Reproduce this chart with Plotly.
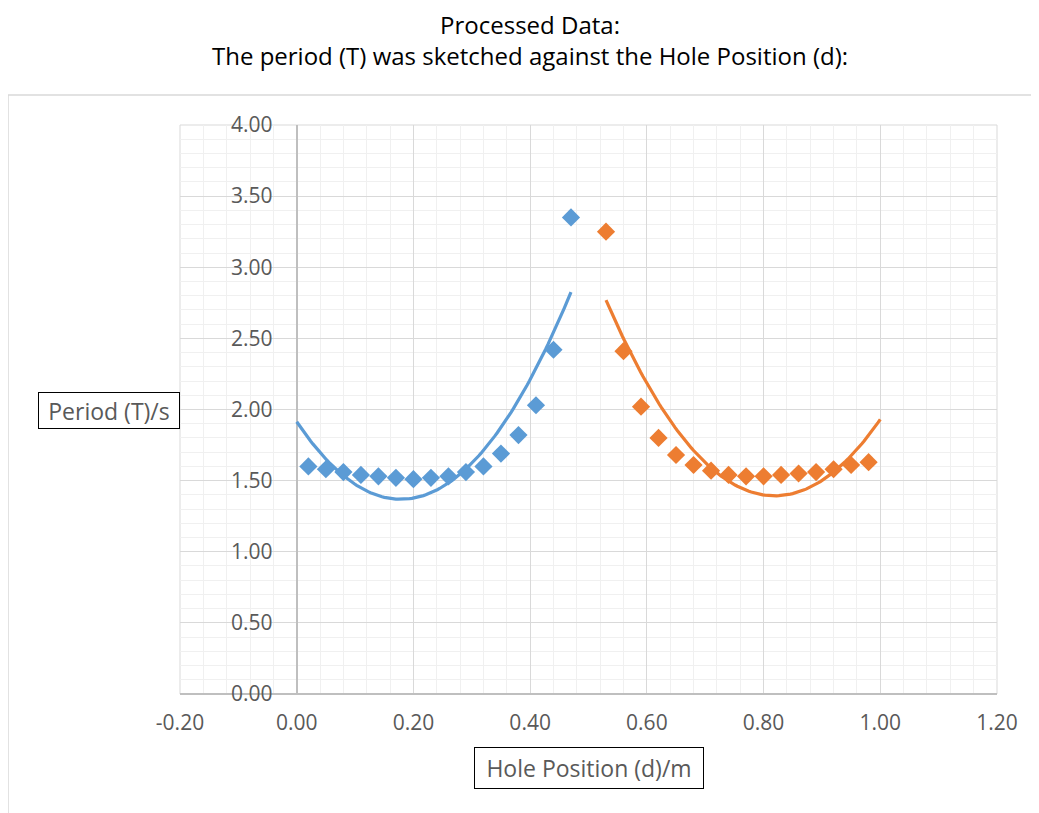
import numpy as np
import plotly.graph_objects as go

# ---- data ----
d_left = [0.02, 0.05, 0.08, 0.11, 0.14, 0.17, 0.20, 0.23, 0.26, 0.29, 0.32, 0.35, 0.38, 0.41, 0.44, 0.47]
T_left = [1.60, 1.58, 1.56, 1.54, 1.53, 1.52, 1.51, 1.52, 1.53, 1.56, 1.60, 1.69, 1.82, 2.03, 2.42, 3.35]
d_right = [0.53, 0.56, 0.59, 0.62, 0.65, 0.68, 0.71, 0.74, 0.77, 0.80, 0.83, 0.86, 0.89, 0.92, 0.95, 0.98]
T_right = [3.25, 2.41, 2.02, 1.80, 1.68, 1.61, 1.57, 1.54, 1.53, 1.53, 1.54, 1.55, 1.56, 1.58, 1.61, 1.63]

x_ticks = [-0.2, 0.0, 0.2, 0.4, 0.6, 0.8, 1.0, 1.2]
y_ticks = [0.0, 0.5, 1.0, 1.5, 2.0, 2.5, 3.0, 3.5, 4.0]

title_lines = ["Processed Data:", "The period (T) was sketched against the Hole Position (d):"]
x_title = "Hole Position (d)/m"
y_title = "Period (T)/s"

BLUE = "#5B9BD5"
ORANGE = "#ED7D31"

# polynomial (order 2) trendlines, extended 0.02 beyond the data like Excel's forecast
cl = np.polyfit(d_left, T_left, 2)
cr = np.polyfit(d_right, T_right, 2)
xl = np.linspace(min(d_left) - 0.02, max(d_left), 120)
xr = np.linspace(min(d_right), max(d_right) + 0.02, 120)

fig = go.Figure()
fig.add_trace(go.Scatter(x=xl, y=np.polyval(cl, xl), mode="lines",
                         line=dict(color=BLUE, width=3.2), showlegend=False, hoverinfo="skip"))
fig.add_trace(go.Scatter(x=xr, y=np.polyval(cr, xr), mode="lines",
                         line=dict(color=ORANGE, width=3.2), showlegend=False, hoverinfo="skip"))
fig.add_trace(go.Scatter(x=d_left, y=T_left, mode="markers",
                         marker=dict(symbol="diamond", size=14, color=BLUE), showlegend=False))
fig.add_trace(go.Scatter(x=d_right, y=T_right, mode="markers",
                         marker=dict(symbol="diamond", size=14, color=ORANGE), showlegend=False))

# page has an 8px body margin, so the figure is drawn 8px smaller and referenced from that offset
OFF = 8
W, H = 1039 - OFF, 813 - OFF
L, R, T, B = 180 - OFF, 997 - OFF, 125 - OFF, 694 - OFF
pw, ph = R - L, B - T

def px(x):
    return (x - OFF - L) / pw

def py(y):
    return (B - (y - OFF)) / ph

xmin, xmax = -0.2, 1.2
ypos = (0 - xmin) / (xmax - xmin)

fig.update_layout(
    width=W, height=H,
    margin=dict(l=L, r=W - R, t=T, b=H - B),
    paper_bgcolor="white", plot_bgcolor="white",
    font=dict(family="Open Sans", color="#595959"),
    xaxis=dict(range=[xmin, xmax], tickvals=x_ticks, ticktext=[f"{v:.2f}" for v in x_ticks],
               showgrid=True, gridcolor="#D9D9D9", gridwidth=1,
               minor=dict(dtick=0.04, showgrid=True, gridcolor="#F0F0F0", gridwidth=1),
               zeroline=True, zerolinecolor="#BFBFBF", zerolinewidth=1.5,
               showline=False, ticks="outside", ticklen=10, tickcolor="rgba(0,0,0,0)",
               tickfont=dict(size=21, color="#595959"), fixedrange=True),
    yaxis=dict(range=[0, 4], tickvals=y_ticks, ticktext=[f"{v:.2f}" for v in y_ticks],
               anchor="free", position=ypos,
               showgrid=True, gridcolor="#D9D9D9", gridwidth=1,
               minor=dict(dtick=0.1, showgrid=True, gridcolor="#F0F0F0", gridwidth=1),
               zeroline=True, zerolinecolor="#BFBFBF", zerolinewidth=1.5,
               showline=False, ticks="outside", ticklen=20, tickcolor="rgba(0,0,0,0)",
               tickfont=dict(size=21, color="#595959"), fixedrange=True),
    shapes=[
        dict(type="rect", xref="paper", yref="paper",
             x0=px(8), x1=px(1050), y0=py(830), y1=py(95),
             line=dict(color="#D9D9D9", width=1.5), layer="below"),
        dict(type="rect", xref="paper", yref="paper",
             x0=0, x1=1, y0=0, y1=1,
             line=dict(color="#D9D9D9", width=1), layer="below"),
    ],
    annotations=[
        dict(text="<br>".join(title_lines), xref="paper", yref="paper", x=px(530), y=py(40),
             showarrow=False, font=dict(size=24, color="black"), xanchor="center", yanchor="middle",
             align="center"),
        dict(text=y_title, xref="paper", yref="paper", x=px(109), y=py(411),
             showarrow=False, font=dict(size=23, color="#595959"), xanchor="center", yanchor="middle",
             width=134, height=29, bordercolor="black", borderwidth=1, borderpad=3, bgcolor="white"),
        dict(text=x_title, xref="paper", yref="paper", x=px(589), y=py(768),
             showarrow=False, font=dict(size=23, color="#595959"), xanchor="center", yanchor="middle",
             width=222, height=34, bordercolor="black", borderwidth=1, borderpad=3, bgcolor="white"),
    ],
)

fig.write_html("out.html")
